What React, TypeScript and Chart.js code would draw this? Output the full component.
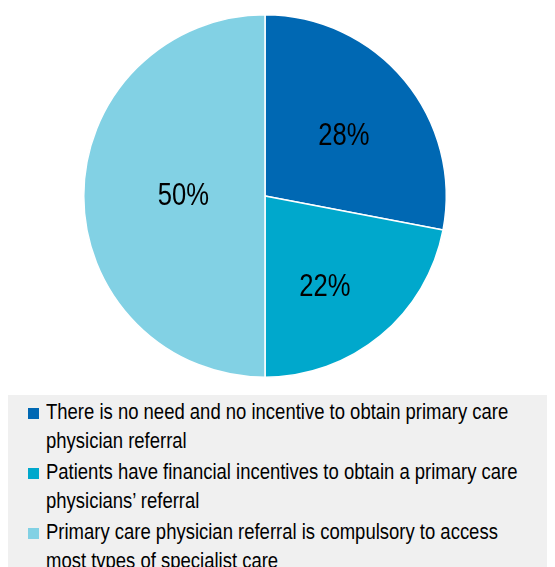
import React, { useEffect, useRef } from "react";
import { Chart, registerables } from "chart.js";

Chart.register(...registerables);

const categories = [
  "There is no need and no incentive to obtain primary care\nphysician referral",
  "Patients have financial incentives to obtain a primary care\nphysicians’ referral",
  "Primary care physician referral is compulsory to access\nmost types of specialist care",
];
const values = [28, 22, 50];
const colors = ["#0068B3", "#00A8CC", "#82D1E4"];

// label placement tweaks (radius fraction, angle offset in degrees)
const labelRadius = [0.545, 0.6, 0.45];
const labelAngleOffset = [2.6, 6.2, 0];

const FONT = '"Liberation Sans", Arial, sans-serif';

const labelPlugin = {
  id: "sliceLabels",
  afterDatasetsDraw(chart: any) {
    const ctx = chart.ctx;
    const meta = chart.getDatasetMeta(0);
    ctx.save();
    ctx.font = `32px ${FONT}`;
    ctx.fillStyle = "#000";
    ctx.textAlign = "center";
    ctx.textBaseline = "middle";
    meta.data.forEach((arc: any, i: number) => {
      const { x, y, startAngle, endAngle, outerRadius } = arc.getProps(
        ["x", "y", "startAngle", "endAngle", "outerRadius"],
        true
      );
      const mid = (startAngle + endAngle) / 2 + (labelAngleOffset[i] * Math.PI) / 180;
      const r = outerRadius * labelRadius[i];
      ctx.save();
      ctx.translate(x + Math.cos(mid) * r, y + Math.sin(mid) * r);
      ctx.scale(0.8, 1);
      ctx.fillText(`${values[i]}%`, 0, 0);
      ctx.restore();
    });
    ctx.restore();
  },
};

export default function App() {
  const ref = useRef<HTMLCanvasElement>(null);
  useEffect(() => {
    if (!ref.current) return;
    const chart = new Chart(ref.current, {
      type: "pie",
      data: {
        labels: categories,
        datasets: [
          {
            data: values,
            backgroundColor: colors,
            borderColor: "#ffffff",
            borderWidth: 1.5,
          },
        ],
      },
      options: {
        animation: false,
        responsive: true,
        maintainAspectRatio: false,
        layout: { padding: { top: 6, bottom: 10, left: 0, right: 33 } },
        plugins: { legend: { display: false }, tooltip: { enabled: false } },
      },
      plugins: [labelPlugin],
    });
    return () => chart.destroy();
  }, []);

  return (
    <div style={{ width: 547, fontFamily: FONT }}>
      <div style={{ position: "relative", width: 547, height: 380 }}>
        <canvas ref={ref} />
      </div>
      <div
        style={{
          marginTop: 7,
          background: "#F0F0F0",
          height: 180,
          paddingTop: 3,
          paddingLeft: 20,
          boxSizing: "border-box",
          overflow: "hidden",
        }}
      >
        {categories.map((c, i) => (
          <div
            key={i}
            style={{
              display: "flex",
              alignItems: "flex-start",
              fontSize: 22,
              lineHeight: "28.6px",
              color: "#000",
              marginBottom: 3,
            }}
          >
            <span
              style={{
                display: "inline-block",
                width: 11,
                height: 11,
                background: colors[i],
                marginTop: 9.5,
                marginRight: 7,
                flexShrink: 0,
              }}
            />
            <span
              style={{
                whiteSpace: "pre",
                display: "inline-block",
                transform: "scaleX(0.84)",
                transformOrigin: "left top",
              }}
            >
              {c}
            </span>
          </div>
        ))}
      </div>
    </div>
  );
}
